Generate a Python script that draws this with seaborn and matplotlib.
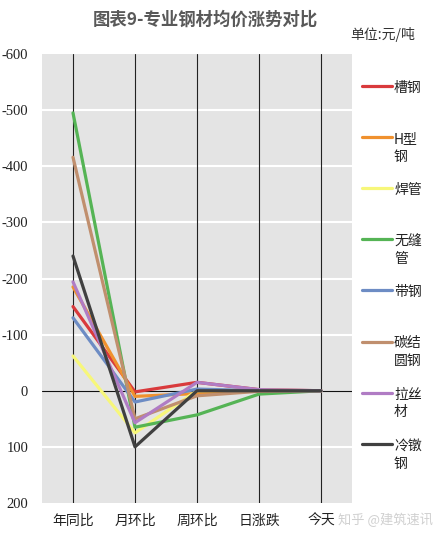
import matplotlib
matplotlib.use("Agg")
import matplotlib.pyplot as plt
from matplotlib.lines import Line2D
import pandas as pd
import seaborn as sns

# categories and series (axis is inverted)
periods = ["年同比", "月环比", "周环比", "日涨跌", "今天"]
steels = ["槽钢", "H型钢", "焊管", "无缝管", "带钢", "碳结圆钢", "拉丝材", "冷镦钢"]
legend_labels = ["槽钢", "H型\n钢", "焊管", "无缝\n管", "带钢", "碳结\n圆钢", "拉丝\n材", "冷镦\n钢"]

cao_gang = [-150, 2, -15, -2, 0]
h_gang = [-185, 10, 5, 0, 0]
han_guan = [-62, 75, 0, -1, 0]
wufeng_guan = [-495, 65, 43, 6, 0]
dai_gang = [-130, 20, -3, 0, 0]
tanjie_yuangang = [-416, 50, 9, 1, 0]
lasi_cai = [-194, 57, -15, -2, 0]
lengdun_gang = [-240, 100, 0, 0, 0]

colors = ["#d93a3c", "#f0912e", "#f7f77a", "#55b455", "#6d8cc4",
          "#c08f6e", "#b07cc4", "#404040"]

series = [cao_gang, h_gang, han_guan, wufeng_guan, dai_gang,
          tanjie_yuangang, lasi_cai, lengdun_gang]
rows = []
for name, vals in zip(steels, series):
    for p, v in zip(periods, vals):
        rows.append({"指标": p, "涨跌": v, "品种": name})
df = pd.DataFrame(rows)

sns.set_style("white")
plt.rcParams["font.family"] = ["Noto Sans CJK SC", "DejaVu Sans"]

fig = plt.figure(figsize=(4.45, 5.38), dpi=100)
ax = fig.add_axes([42 / 445, 1 - 503 / 538, 310 / 445, 449 / 538])
ax.set_facecolor("#e4e4e4")

sns.lineplot(data=df, x="指标", y="涨跌", hue="品种", hue_order=steels,
             palette=colors, sort=False, linewidth=2.3, legend=False, ax=ax,
             zorder=3)

ax.set_xlim(-0.5, len(periods) - 0.5)
ax.set_ylim(200, -600)
ax.set_yticks(range(-600, 201, 100))
ax.set_yticklabels([str(t) for t in range(-600, 201, 100)],
                   family="Liberation Serif", fontsize=10.5, color="#222222")
ax.set_xticks(range(len(periods)))
ax.set_xticklabels(periods, fontsize=10, color="#222222")
ax.tick_params(axis="both", length=0)
ax.tick_params(axis="y", pad=10)
ax.tick_params(axis="x", pad=8)
ax.set_xlabel("")
ax.set_ylabel("")

for t in range(-500, 101, 100):
    if t != 0:
        ax.axhline(t, color="white", lw=1.5, zorder=1)
for i in range(len(periods)):
    ax.axvline(i, color="#222222", lw=0.8, zorder=2)
ax.axhline(0, color="#111111", lw=0.8, zorder=2)
for s in ax.spines.values():
    s.set_visible(False)

fig.text(205 / 445, 1 - 20 / 538, "图表9-专业钢材均价涨势对比", ha="center",
         va="center", fontsize=12.5, fontweight="bold", color="#595959")
fig.text(350 / 445, 1 - 35 / 538, "单位:元/吨", ha="left", va="center",
         fontsize=10, color="#333333")

# legend at the right, handle aligned with the first text line
for i, (lab, c) in enumerate(zip(legend_labels, colors)):
    y = 1 - (86 + i * 51.1) / 538
    fig.add_artist(Line2D([362 / 445, 392 / 445], [y, y], color=c, lw=2.3,
                          transform=fig.transFigure))
    fig.text(394 / 445, y + 5 / 538, lab, ha="left", va="top", fontsize=10,
             color="#222222", linespacing=1.35)

fig.text(386 / 445, 1 - 520 / 538, "知乎 @建筑速讯", ha="center", va="center",
         fontsize=9.5, color="#d0d0d0")

fig.savefig("out.png", dpi=100)
